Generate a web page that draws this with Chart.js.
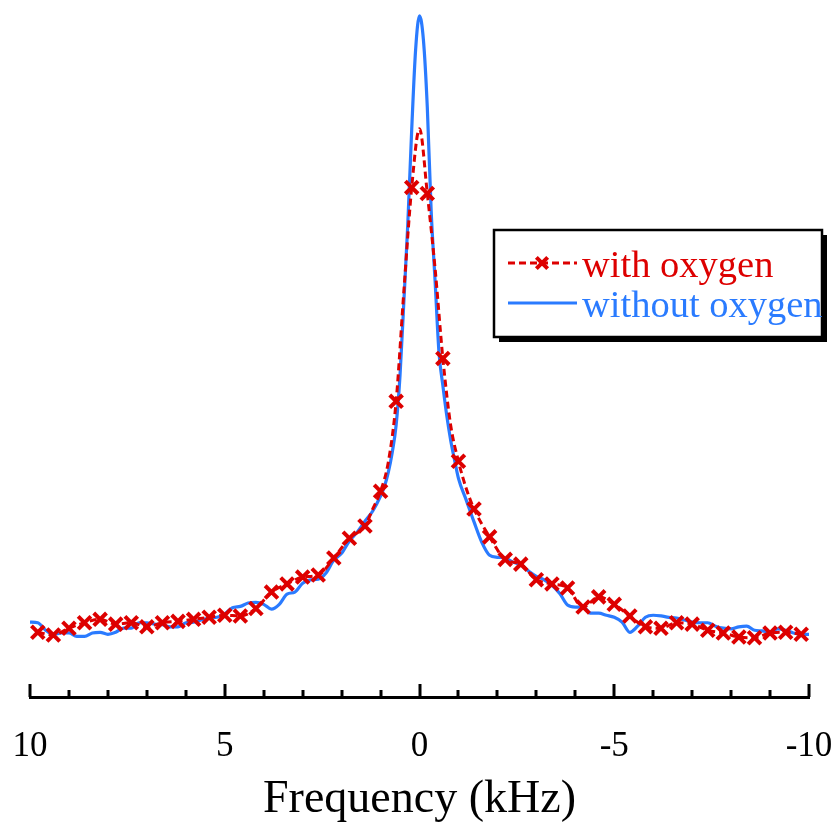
<!DOCTYPE html>
<html>
<head>
<meta charset="utf-8">
<title>Frequency (kHz)</title>
<script src="https://cdn.jsdelivr.net/npm/chart.js@4.4.0/dist/chart.umd.min.js"></script>
<style>
  html, body { margin: 0; padding: 0; background: #fff; }
  #wrap { width: 839px; height: 823px; }
</style>
</head>
<body>
<div id="wrap"><canvas id="spectrum" width="839" height="823"></canvas></div>
<script>
// values, intensity scaled so the "without oxygen" peak = 100
const freqBlue = [10, 9.8, 9.6, 9.4, 9.2, 9, 8.8, 8.6, 8.4, 8.2, 8, 7.8, 7.6, 7.4, 7.2, 7, 6.8, 6.6, 6.4, 6.2,
  6, 5.8, 5.6, 5.4, 5.2, 5, 4.8, 4.6, 4.4, 4.2, 4, 3.8, 3.6, 3.4, 3.2, 3, 2.8, 2.6, 2.4, 2.2,
  2, 1.8, 1.6, 1.4, 1.2, 1, 0.9, 0.8, 0.7, 0.6, 0.5, 0.4, 0.3, 0.2, 0.1, 0,
  -0.1, -0.2, -0.3, -0.4, -0.5, -0.6, -0.7, -0.8, -0.9, -1, -1.2, -1.4, -1.6, -1.8,
  -2, -2.2, -2.4, -2.6, -2.8, -3, -3.2, -3.4, -3.6, -3.8, -4, -4.2, -4.4, -4.6, -4.8,
  -5, -5.2, -5.4, -5.6, -5.8, -6, -6.2, -6.4, -6.6, -6.8, -7, -7.2, -7.4, -7.6, -7.8,
  -8, -8.2, -8.4, -8.6, -8.8, -9, -9.2, -9.4, -9.6, -9.8, -10];
const withoutOxygen = [11.0, 10.9, 9.8, 9.2, 9.4, 9.4, 8.9, 8.9, 9.4, 9.5, 9.2, 9.5, 10.1, 10.1, 10.9, 10.9, 10.7, 10.6, 10.3, 10.3,
  10.9, 11.0, 11.3, 11.6, 11.7, 12.2, 13.1, 13.3, 13.8, 13.9, 13.6, 12.9, 13.6, 15.1, 15.4, 16.7, 17.2, 17.3, 18.2, 20.1,
  21.1, 22.9, 24.2, 25.8, 27.3, 29.5, 30.9, 33.0, 35.9, 39.9, 47.2, 58.2, 69.5, 83.3, 95.0, 100,
  96.5, 86.6, 71.3, 61.1, 50.6, 45.7, 41.3, 37.7, 34.8, 32.1, 28.9, 25.7, 22.7, 20.8,
  20.5, 20.4, 19.8, 19.4, 18.5, 17.7, 17.2, 16.4, 15.2, 13.5, 13.2, 13.2, 12.3, 12.3, 12.0,
  11.7, 11.0, 9.5, 10.4, 11.7, 12.0, 11.9, 11.7, 11.6, 11.3, 11.0, 10.9, 10.9, 10.4, 10.1,
  10.0, 10.3, 10.4, 9.8, 9.7, 9.5, 10.0, 9.8, 9.4, 9.2, 9.2];

const freqRed = [9.8, 9.4, 9.0, 8.6, 8.2, 7.8, 7.4, 7.0, 6.6, 6.2, 5.8, 5.4, 5.0, 4.6, 4.2, 3.8, 3.4, 3.0, 2.6, 2.2,
  1.8, 1.4, 1.2, 1.0, 0.8, 0.6, 0.4, 0.2, 0, -0.2, -0.4, -0.6, -0.8, -1.0, -1.2, -1.4,
  -1.8, -2.2, -2.6, -3.0, -3.4, -3.8, -4.2, -4.6, -5.0, -5.4, -5.8, -6.2, -6.6, -7.0, -7.4, -7.8,
  -8.2, -8.6, -9.0, -9.4, -9.8];
const withOxygen = [9.5, 9.1, 10.1, 10.9, 11.4, 10.7, 10.9, 10.3, 10.9, 11.1, 11.4, 11.7, 12.0, 11.9, 13.0, 15.4, 16.6, 17.6, 17.9, 20.4,
  23.3, 25.1, 27.6, 30.2, 34.5, 43.4, 59.7, 74.8, 83.4, 73.9, 62.9, 49.7, 39.9, 34.6, 30.6, 27.6,
  23.5, 20.2, 19.5, 17.2, 16.6, 16.0, 13.2, 14.7, 13.6, 11.9, 10.3, 10.1, 10.9, 10.7, 9.8, 9.4,
  8.8, 8.7, 9.4, 9.5, 9.2];

const majorTicks = [10, 5, 0, -5, -10];
const minorTicks = [9, 8, 7, 6, 4, 3, 2, 1, -1, -2, -3, -4, -6, -7, -8, -9];

const RED = '#dd0000';
const BLUE = '#2a7bff';
const SERIF = '"Liberation Serif", "Times New Roman", serif';

// x markers sit on every other red point (odd multiples of 0.2 kHz)
function isMarker(x) {
  return Math.round(Math.abs(x) * 10) % 4 === 2;
}

// inward tick marks on the frequency axis
const axisTicks = {
  id: 'axisTicks',
  afterDraw(chart) {
    const xs = chart.scales.x;
    const y0 = chart.chartArea.bottom;
    const ctx = chart.ctx;
    ctx.save();
    ctx.strokeStyle = '#000';
    ctx.lineWidth = 3;
    const mark = (v, len) => {
      const px = Math.round(xs.getPixelForValue(v));
      ctx.beginPath();
      ctx.moveTo(px, y0);
      ctx.lineTo(px, y0 - len);
      ctx.stroke();
    };
    majorTicks.forEach(v => mark(v, 13));
    minorTicks.forEach(v => mark(v, 7));
    ctx.restore();
  }
};

// boxed legend with a drop shadow, placed inside the plot
const boxLegend = {
  id: 'boxLegend',
  afterDraw(chart, args, opts) {
    const ctx = chart.ctx;
    const { x, y, w, h } = opts;
    ctx.save();
    ctx.fillStyle = '#000';
    ctx.fillRect(x + 5, y + 5, w, h);
    ctx.fillStyle = '#fff';
    ctx.fillRect(x, y, w, h);
    ctx.lineWidth = 2.5;
    ctx.strokeStyle = '#000';
    ctx.strokeRect(x, y, w, h);

    ctx.font = '38.5px ' + SERIF;
    ctx.textBaseline = 'alphabetic';
    chart.data.datasets.forEach((ds, i) => {
      const ly = y + 33 + i * 40;
      ctx.strokeStyle = ds.borderColor;
      ctx.lineWidth = 3;
      ctx.setLineDash(ds.borderDash || []);
      ctx.beginPath();
      ctx.moveTo(x + 14, ly);
      ctx.lineTo(x + 83, ly);
      ctx.stroke();
      ctx.setLineDash([]);
      if (ds.pointStyle) {
        ctx.lineWidth = 4;
        Chart.helpers.drawPoint(ctx, { pointStyle: ds.pointStyle, radius: 8, borderWidth: 4 }, x + 48, ly);
      }
      ctx.fillStyle = ds.borderColor;
      ctx.fillText(ds.label, x + 88, ly + 14);
    });
    ctx.restore();
  }
};

const redPoints = freqRed.map((f, i) => ({ x: f, y: withOxygen[i] }));
const bluePoints = freqBlue.map((f, i) => ({ x: f, y: withoutOxygen[i] }));

new Chart(document.getElementById('spectrum'), {
  type: 'line',
  data: {
    datasets: [
      {
        label: 'with oxygen',
        data: redPoints,
        borderColor: RED,
        borderWidth: 3,
        borderDash: [7, 4],
        cubicInterpolationMode: 'monotone',
        pointStyle: 'crossRot',
        pointRadius: ctx => (isMarker(freqRed[ctx.dataIndex]) ? 9 : 0),
        pointBorderWidth: 4,
        pointBorderColor: RED,
        pointBackgroundColor: RED,
        fill: false
      },
      {
        label: 'without oxygen',
        data: bluePoints,
        borderColor: BLUE,
        borderWidth: 3.2,
        cubicInterpolationMode: 'monotone',
        pointRadius: 0,
        pointStyle: false,
        fill: false
      }
    ]
  },
  options: {
    responsive: false,
    animation: false,
    layout: { padding: { left: 30, right: 30, top: 5, bottom: 0 } },
    plugins: {
      legend: { display: false },
      tooltip: { enabled: false },
      boxLegend: { x: 494, y: 230, w: 328, h: 107 }
    },
    scales: {
      x: {
        type: 'linear',
        reverse: true,
        min: -10,
        max: 10,
        afterFit(scale) {
          scale.height = 126;
          scale.paddingLeft = 0;
          scale.paddingRight = 0;
        },
        afterBuildTicks(scale) { scale.ticks = majorTicks.map(v => ({ value: v })); },
        grid: { display: false, drawTicks: false },
        border: { display: true, color: '#000', width: 3 },
        ticks: {
          color: '#000',
          font: { family: SERIF, size: 35 },
          padding: 29,
          maxRotation: 0,
          autoSkip: false
        },
        title: {
          display: true,
          text: 'Frequency (kHz)',
          color: '#000',
          font: { family: SERIF, size: 46, lineHeight: 1 },
          padding: { top: 0, bottom: 0 }
        }
      },
      y: {
        display: false,
        min: 0,
        max: 100.4
      }
    }
  },
  plugins: [axisTicks, boxLegend]
});
</script>
</body>
</html>
